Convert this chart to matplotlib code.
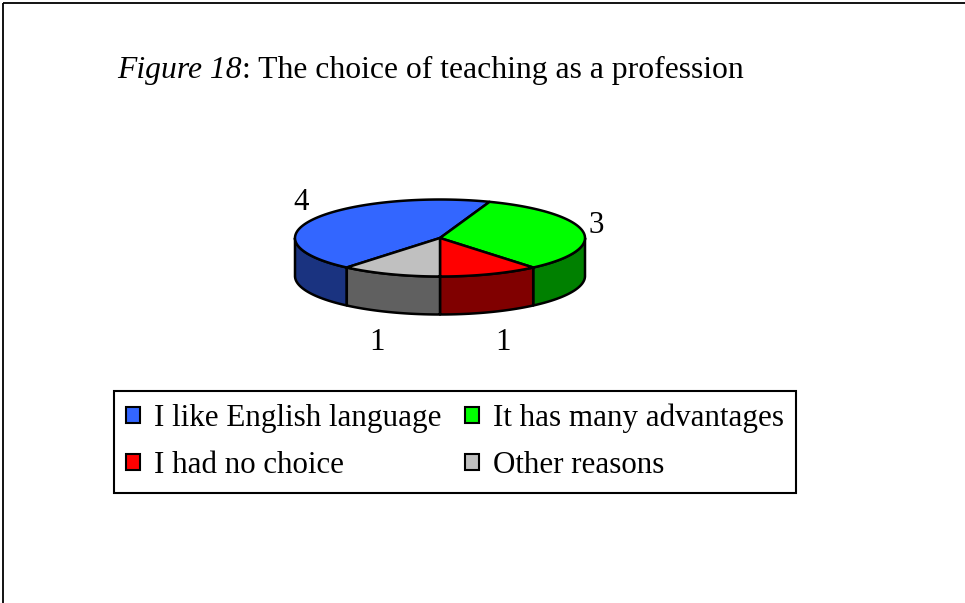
import numpy as np
import matplotlib
matplotlib.use("Agg")
import matplotlib.pyplot as plt
from matplotlib.patches import Polygon, Patch, Rectangle

categories = ["I like English language", "It has many advantages", "I had no choice", "Other reasons"]
values = [4, 3, 1, 1]
top_colors = ["#3366FF", "#00FF00", "#FF0000", "#C0C0C0"]
side_colors = ["#1A3380", "#008000", "#800000", "#606060"]
title_italic = "Figure 18"
title_rest = ": The choice of teaching as a profession"

W, H = 965, 603
fig = plt.figure(figsize=(W / 100, H / 100), dpi=100)
ax = fig.add_axes([0, 0, 1, 1])
ax.set_xlim(0, W)
ax.set_ylim(H, 0)
ax.axis("off")

SERIF = ["Liberation Serif", "DejaVu Serif"]
FS_T = 22.8
FS = 22.3

# outer frame
ax.add_patch(Rectangle((3, 3), W + 10, H + 10, fill=False, ec="black", lw=1.3))

# title
t1 = ax.text(117, 78, title_italic, fontsize=FS_T, family=SERIF, style="italic", va="baseline", ha="left")
fig.canvas.draw()
bb = t1.get_window_extent(renderer=fig.canvas.get_renderer())
x_end = ax.transData.inverted().transform((bb.x1, bb.y0))[0]
ax.text(x_end, 78, title_rest, fontsize=FS_T, family=SERIF, va="baseline", ha="left")

# 3D pie geometry
cx, cy, rx, ry, depth = 440, 238, 145, 38.5, 38
start = 230.0
total = float(sum(values))
LW = 1.8


def ell(th_deg, dy=0.0):
    t = np.radians(th_deg)
    return cx + rx * np.cos(t), cy - ry * np.sin(t) + dy


slices = []
cum = 0.0
for v in values:
    hi = start - cum / total * 360.0
    lo = hi - v / total * 360.0
    slices.append((lo, hi))
    cum += v

# side walls (front half: angles in [-180, 0] mod 360)
for (lo, hi), sc in zip(slices, side_colors):
    for k in (-1, 0, 1):
        a = max(lo, -180 + 360 * k)
        b = min(hi, 0 + 360 * k)
        if b > a:
            th = np.linspace(a, b, 80)
            xs, ys = ell(th)
            xb, yb = ell(th[::-1], depth)
            pts = np.column_stack([np.concatenate([xs, xb]), np.concatenate([ys, yb])])
            ax.add_patch(Polygon(pts, closed=True, fc=sc, ec="black", lw=LW, joinstyle="round"))

# top faces
for (lo, hi), tc in zip(slices, top_colors):
    th = np.linspace(lo, hi, 200)
    xs, ys = ell(th)
    pts = np.column_stack([np.concatenate([[cx], xs]), np.concatenate([[cy], ys])])
    ax.add_patch(Polygon(pts, closed=True, fc=tc, ec="black", lw=LW, joinstyle="round"))

# data labels
for (lo, hi), v in zip(slices, values):
    m = (lo + hi) / 2
    ex, ey = ell(m)
    s = np.sin(np.radians(m))
    c = np.cos(np.radians(m))
    lx = ex + 13 * np.sign(c)
    ly = ey + (depth if s < 0 else 0) - 32 * s
    ax.text(lx, ly, str(v), fontsize=FS, family=SERIF, ha="center", va="center")

# legend (row-wise order: blue, green / red, gray)
order = [0, 2, 1, 3]
handles = [Patch(fc=top_colors[i], ec="black", lw=1.5) for i in order]
labels = [categories[i] for i in order]
leg = ax.legend(handles, labels, ncol=2, loc="upper left",
                bbox_to_anchor=(114 / W, 1 - 391 / H), bbox_transform=fig.transFigure,
                borderaxespad=0, frameon=True, fancybox=False, edgecolor="black", framealpha=1,
                prop={"family": SERIF, "size": FS}, handlelength=0.45, handleheight=0.45,
                handletextpad=0.45, columnspacing=0.75, labelspacing=0.59, borderpad=0.4)
leg.get_frame().set_linewidth(1.5)

fig.savefig("out.png", dpi=100)
